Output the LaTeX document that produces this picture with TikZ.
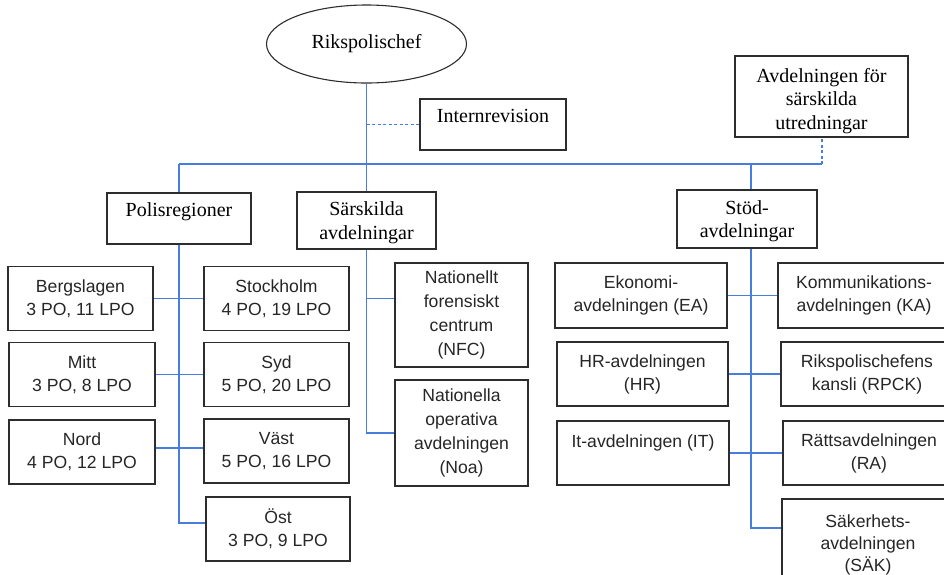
\documentclass[tikz,border=0pt]{standalone}
\usepackage{fontspec}
\setmainfont{Liberation Serif}
\newfontfamily\sansf{Liberation Sans}
\usetikzlibrary{shapes.geometric}
\definecolor{lineblue}{RGB}{72,125,222}
\definecolor{boxgray}{RGB}{45,45,45}
\begin{document}
\begin{tikzpicture}[x=1pt,y=-1pt,
  box/.style={draw=boxgray, line width=1.1pt, inner sep=0pt},
  serif/.style={font=\fontsize{20}{23.5}\selectfont},
  sans/.style={font=\sansf\fontsize{17.6}{23}\selectfont, text=black!85},
  rbox/.style={box, sans, align=center, minimum width=145pt, minimum height=64pt},
  dbox/.style={box, sans, align=center, minimum width=172pt, minimum height=65pt},
  link/.style={draw=lineblue, line width=1.2pt},
  dlink/.style={link, dash pattern=on 3pt off 2.5pt},
]
\useasboundingbox (0,0) rectangle (944,574);
\clip (0,0) rectangle (944,574);

% top level
\node[box, ellipse, serif, minimum width=200pt, minimum height=78pt] (chef) at (366.5,44) {Rikspolischef};
\node[box, serif, minimum width=146pt, minimum height=51pt, text height=12pt, text depth=16pt] (intern) at (493,124.5) {Internrevision};
\node[box, serif, align=center, minimum width=173pt, minimum height=81pt] (avd) at (821.5,96.5) {\rule{0pt}{23pt}Avdelningen för\\särskilda\\utredningar};

% second level
\node[box, serif, minimum width=144pt, minimum height=51pt, text height=12pt, text depth=16pt] (pol) at (179,218.5) {Polisregioner};
\node[box, serif, align=center, minimum width=139pt, minimum height=57pt] (sars) at (366.5,220.5) {\rule{0pt}{18pt}Särskilda\\avdelningar};
\node[box, serif, align=center, minimum width=140pt, minimum height=58pt] (stod) at (747,219) {\rule{0pt}{18pt}Stöd-\\avdelningar};

% regions
\node[rbox] (berg) at (80.5,298.5) {Bergslagen\\3 PO, 11 LPO};
\node[rbox] (stock) at (276.5,298.5) {Stockholm\\4 PO, 19 LPO};
\node[rbox, minimum width=146pt] (mitt) at (82,374.5) {Mitt\\3 PO, 8 LPO};
\node[rbox] (syd) at (276.5,374.5) {Syd\\5 PO, 20 LPO};
\node[rbox, minimum width=146pt] (nord) at (82,452) {Nord\\4 PO, 12 LPO};
\node[rbox] (vast) at (276.5,451) {Väst\\5 PO, 16 LPO};
\node[rbox, minimum width=144pt] (ost) at (278,529) {Öst\\3 PO, 9 LPO};

% special departments
\node[box, sans, align=center, minimum width=133pt, minimum height=104pt, font=\sansf\fontsize{17.6}{24}\selectfont] (nfc) at (461.5,315) {Nationellt\\forensiskt\\centrum\\(NFC)};
\node[box, sans, align=center, minimum width=133pt, minimum height=106pt, font=\sansf\fontsize{17.6}{24}\selectfont] (noa) at (461.5,433) {Nationella\\operativa\\avdelningen\\(Noa)};

% support departments
\node[dbox] (eko) at (641,295.5) {Ekonomi-\\avdelningen (EA)};
\node[dbox] (komm) at (864,295.5) {Kommunikations-\\avdelningen (KA)};
\node[dbox, minimum width=171pt, minimum height=64pt] (hr) at (642.5,374) {HR-avdelningen\\(HR)};
\node[dbox, minimum height=64pt] (rpck) at (867,374) {Rikspolischefens\\kansli (RPCK)};
\node[box, sans, minimum width=172pt, minimum height=64pt, text height=12pt, text depth=24pt] (it) at (643,453) {It-avdelningen (IT)};
\node[dbox, minimum height=64pt] (ra) at (869,453) {Rättsavdelningen\\(RA)};
\node[box, sans, align=center, minimum width=172pt, minimum height=92pt, font=\sansf\fontsize{17.6}{22}\selectfont] (sak) at (868,545) {Säkerhets-\\avdelningen\\(SÄK)};

% coordinates
\coordinate (busL) at (179,164);
\coordinate (busR) at (822,164);
\coordinate (bS) at (751,164);
\coordinate (pe) at (179,523);
\coordinate (nv) at (179,448);
\coordinate (nf) at (366.5,298.5);
\coordinate (sk) at (751,528);

% connectors
\draw[link] (chef.south) -- (sars.north);
\draw[link] (busL) -- (busR);
\draw[link] (busL) -- (pol.north);
\draw[link] (bS) -- (bS |- stod.north);
\draw[dlink] (busR) -- (busR |- avd.south);
\draw[dlink] (chef.south |- intern.west) -- (intern.west);

\draw[link] (pol.south) -- (pe) -- (ost.west |- pe);
\draw[link] (berg.east) -- (stock.west);
\draw[link] (mitt.east) -- (syd.west);
\draw[link] (nord.east |- nv) -- (vast.west |- nv);

\draw[link] (sars.south) -- (sars.south |- noa.west) -- (noa.west);
\draw[link] (nf) -- (nfc.west |- nf);

\draw[link] (bS |- stod.south) -- (sk) -- (sak.west |- sk);
\draw[link] (eko.east) -- (komm.west);
\draw[link] (hr.east) -- (rpck.west);
\draw[link] (it.east) -- (ra.west);
\end{tikzpicture}
\end{document}
